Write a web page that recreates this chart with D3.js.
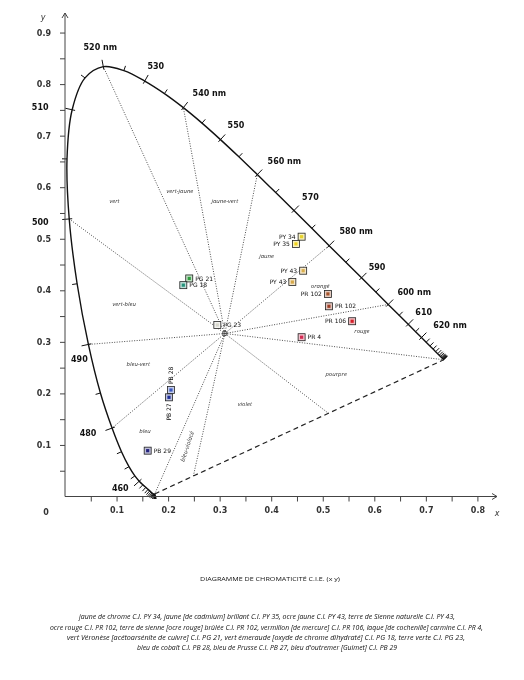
<!DOCTYPE html>
<html>
<head>
<meta charset="utf-8">
<script src="https://cdn.jsdelivr.net/npm/d3@7"></script>
<style>
  body { margin: 0; background: #fff; }
  svg { display: block; will-change: transform; }
</style>
</head>
<body>
<svg id="chart"></svg>
<script>
// spectral locus CIE 1931 (x, y), every 5 nm
const wavelengths = [380, 385, 390, 395, 400, 405, 410, 415, 420, 425, 430, 435, 440, 445, 450, 455,
  460, 465, 470, 475, 480, 485, 490, 495, 500, 505, 510, 515, 520, 525, 530, 535, 540, 545, 550, 555,
  560, 565, 570, 575, 580, 585, 590, 595, 600, 605, 610, 615, 620, 625, 630, 635, 640, 645, 650, 655,
  660, 665, 670, 675, 680, 685, 690, 695, 700];
const locusX = [0.1741, 0.1740, 0.1738, 0.1736, 0.1733, 0.1730, 0.1726, 0.1721, 0.1714, 0.1703, 0.1689,
  0.1669, 0.1644, 0.1611, 0.1566, 0.1510, 0.1440, 0.1355, 0.1241, 0.1096, 0.0913, 0.0687, 0.0454, 0.0235,
  0.0082, 0.0039, 0.0139, 0.0389, 0.0743, 0.1142, 0.1547, 0.1929, 0.2296, 0.2658, 0.3016, 0.3373, 0.3731,
  0.4087, 0.4441, 0.4788, 0.5125, 0.5448, 0.5752, 0.6029, 0.6270, 0.6482, 0.6658, 0.6801, 0.6915, 0.7006,
  0.7079, 0.7140, 0.7190, 0.7230, 0.7260, 0.7283, 0.7300, 0.7311, 0.7320, 0.7327, 0.7334, 0.7340, 0.7344,
  0.7346, 0.7347];
const locusY = [0.0050, 0.0050, 0.0049, 0.0049, 0.0048, 0.0048, 0.0048, 0.0048, 0.0051, 0.0058, 0.0069,
  0.0086, 0.0109, 0.0138, 0.0177, 0.0227, 0.0297, 0.0399, 0.0578, 0.0868, 0.1327, 0.2007, 0.2950, 0.4127,
  0.5384, 0.6548, 0.7502, 0.8120, 0.8338, 0.8262, 0.8059, 0.7816, 0.7543, 0.7243, 0.6923, 0.6589, 0.6245,
  0.5896, 0.5547, 0.5202, 0.4866, 0.4544, 0.4242, 0.3965, 0.3725, 0.3514, 0.3340, 0.3197, 0.3083, 0.2993,
  0.2920, 0.2859, 0.2809, 0.2770, 0.2740, 0.2717, 0.2700, 0.2689, 0.2680, 0.2673, 0.2666, 0.2660, 0.2656,
  0.2654, 0.2653];

// labelled wavelengths
const labelNm = [460, 480, 490, 500, 510, 520, 530, 540, 550, 560, 570, 580, 590, 600, 610, 620];
const labelText = ['460', '480', '490', '500', '510', '520 nm', '530', '540 nm', '550', '560 nm', '570',
  '580 nm', '590', '600 nm', '610', '620 nm'];

// white point (illuminant C) and hue boundaries
const whitePoint = [0.3101, 0.3162];
const boundaryNm = [380, 480, 490, 500, 520, 540, 560, 580, 600, 700];
const purpleBoundaryX = [0.249, 0.511];

// hue names
const regionNames = ['vert', 'vert-jaune', 'jaune-vert', 'jaune', 'orangé', 'rouge', 'pourpre', 'violet',
  'bleu-violacé', 'bleu', 'bleu-vert', 'vert-bleu'];
const regionX = [0.096, 0.223, 0.310, 0.391, 0.495, 0.576, 0.526, 0.349, 0.237, 0.155, 0.142, 0.115];
const regionY = [0.573, 0.593, 0.573, 0.467, 0.408, 0.321, 0.238, 0.179, 0.097, 0.128, 0.258, 0.373];

// pigments
const pigmentCodes = ['PY 34', 'PY 35', 'PY 43', 'PY 43', 'PR 102', 'PR 102', 'PR 106', 'PR 4',
  'PG 21', 'PG 18', 'PG 23', 'PB 28', 'PB 27', 'PB 29'];
const pigmentX = [0.459, 0.448, 0.462, 0.441, 0.510, 0.512, 0.557, 0.459, 0.241, 0.2295, 0.2955, 0.2056, 0.2017, 0.1604];
const pigmentY = [0.504, 0.490, 0.438, 0.416, 0.393, 0.369, 0.340, 0.309, 0.423, 0.410, 0.3327, 0.2066, 0.1924, 0.0889];

const xTickValues = [0.05, 0.1, 0.15, 0.2, 0.25, 0.3, 0.35, 0.4, 0.45, 0.5, 0.55, 0.6, 0.65, 0.7, 0.75, 0.8];
const xTickLabels = ['', '0.1', '', '0.2', '', '0.3', '', '0.4', '', '0.5', '', '0.6', '', '0.7', '', '0.8'];
const yLabelValues = [0.1, 0.2, 0.3, 0.4, 0.5, 0.6, 0.7, 0.8, 0.9];
const yTickValues = [0.05, 0.1, 0.15, 0.2, 0.25, 0.3, 0.35, 0.4, 0.45, 0.5, 0.55, 0.6, 0.65, 0.7, 0.75, 0.8, 0.85, 0.9];

const title = 'DIAGRAMME DE CHROMATICITÉ C.I.E. (x y)';
const footLines = [
  'jaune de chrome C.I. PY 34, jaune [de cadmium] brillant C.I. PY 35, ocre jaune C.I. PY 43, terre de Sienne naturelle C.I. PY 43,',
  'ocre rouge C.I. PR 102, terre de sienne [ocre rouge] brûlée C.I. PR 102, vermillon [de mercure] C.I. PR 106, laque [de cochenille] carmine C.I. PR 4,',
  'vert Véronèse [acétoarsénite de cuivre] C.I. PG 21, vert émeraude [oxyde de chrome dihydraté] C.I. PG 18, terre verte C.I. PG 23,',
  'bleu de cobalt C.I. PB 28, bleu de Prusse C.I. PB 27, bleu d\'outremer [Guimet] C.I. PB 29'
];

// ---- layout / styles
const pigmentColors = ['#e6d22c', '#efd21e', '#d9ae4e', '#d6a84a', '#a4532a', '#9c3f26', '#d3202a', '#d42a52',
  '#2f9c3e', '#22927a', '#d6d6cc', '#3a58c0', '#1f2f96', '#24237e'];
const labelSide = ['left', 'left', 'left', 'left', 'left', 'right', 'left', 'right',
  'right', 'right', 'right', 'up', 'down', 'right'];
const nmOffset = {
  460: [-19, 7], 480: [-24, 5], 490: [-9, 15], 500: [-29, 3], 510: [-32, -3], 520: [-3, -19],
  530: [11, -15], 540: [26, -14], 550: [15.5, -14.6], 560: [27, -13], 570: [16.5, -13.6],
  580: [27, -14], 590: [15.5, -11], 600: [26, -12], 610: [15.5, -12], 620: [28.5, -12.6]
};
const footX = [[79, 455], [50, 483], [67, 465], [137, 397]];
const footY = [619, 629.5, 639.5, 649.5];

const W = 524, H = 680;
const svg = d3.select('#chart').attr('width', W).attr('height', H);

const x = d3.scaleLinear().domain([0, 0.8]).range([65, 477.4]);
const y = d3.scaleLinear().domain([0, 0.9]).range([496.5, 32.55]);

const locus = wavelengths.map((w, i) => ({ w, x: locusX[i], y: locusY[i] }));
const byNm = w => locus[wavelengths.indexOf(w)];
const wpx = x(whitePoint[0]), wpy = y(whitePoint[1]);

// hue boundaries (dotted)
const first = locus[0], last = locus[locus.length - 1];
const targets = boundaryNm.map(w => [byNm(w).x, byNm(w).y])
  .concat(purpleBoundaryX.map(px => [px, first.y + (px - first.x) / (last.x - first.x) * (last.y - first.y)]));

svg.append('g').selectAll('line')
  .data(targets)
  .join('line')
  .attr('x1', wpx).attr('y1', wpy)
  .attr('x2', d => x(d[0])).attr('y2', d => y(d[1]))
  .attr('stroke', '#222')
  .attr('stroke-width', 0.8)
  .attr('stroke-dasharray', '1,1.5');

// purple line
svg.append('line')
  .attr('x1', x(first.x)).attr('y1', y(first.y))
  .attr('x2', x(last.x)).attr('y2', y(last.y))
  .attr('stroke', '#222')
  .attr('stroke-width', 1.2)
  .attr('stroke-dasharray', '5,3.5');

// spectral locus
const line = d3.line().x(d => x(d.x)).y(d => y(d.y)).curve(d3.curveCatmullRom.alpha(0.5));
svg.append('path')
  .datum(locus)
  .attr('d', line)
  .attr('fill', 'none')
  .attr('stroke', '#111')
  .attr('stroke-width', 1.4);

// ticks on the locus
function normalAt(i) {
  const a = locus[Math.max(0, i - 1)], b = locus[Math.min(locus.length - 1, i + 1)];
  let tx = x(b.x) - x(a.x), ty = y(b.y) - y(a.y);
  const L = Math.hypot(tx, ty) || 1;
  tx /= L; ty /= L;
  let nx = -ty, ny = tx;
  const px = x(locus[i].x) - wpx, py = y(locus[i].y) - wpy;
  if (nx * px + ny * py < 0) { nx = -nx; ny = -ny; }
  return [nx, ny];
}

svg.append('g').selectAll('line')
  .data(locus)
  .join('line')
  .each(function (d, i) {
    const [nx, ny] = normalAt(i);
    const major = labelNm.includes(d.w);
    const out = major ? 7 : 5, inn = major ? 3 : 0;
    const px = x(d.x), py = y(d.y);
    d3.select(this)
      .attr('x1', px - nx * inn).attr('y1', py - ny * inn)
      .attr('x2', px + nx * out).attr('y2', py + ny * out);
  })
  .attr('stroke', '#111')
  .attr('stroke-width', 1);

// wavelength labels
svg.append('g').selectAll('text')
  .data(labelNm)
  .join('text')
  .attr('x', d => x(byNm(d).x) + nmOffset[d][0])
  .attr('y', d => y(byNm(d).y) + nmOffset[d][1])
  .attr('dy', '0.35em')
  .attr('text-anchor', 'middle')
  .attr('font-family', 'DejaVu Sans, sans-serif')
  .attr('font-weight', 'bold')
  .attr('font-size', 8)
  .attr('fill', '#111')
  .text((d, i) => labelText[i]);

// hue names
svg.append('g').selectAll('text')
  .data(regionNames)
  .join('text')
  .attr('transform', (d, i) => `translate(${x(regionX[i])},${y(regionY[i])})` + (d === 'bleu-violacé' ? ' rotate(-72)' : ''))
  .attr('dy', '0.35em')
  .attr('text-anchor', 'middle')
  .attr('font-family', 'Open Sans, sans-serif')
  .attr('font-style', 'italic')
  .attr('font-size', 6)
  .attr('fill', '#333')
  .text(d => d);

// white point
const wp = svg.append('g').attr('transform', `translate(${wpx},${wpy})`);
wp.append('circle').attr('r', 2.3).attr('fill', '#fff').attr('stroke', '#222').attr('stroke-width', 0.8);
wp.append('path').attr('d', 'M-2.3,0H2.3M0,-2.3V2.3').attr('stroke', '#222').attr('stroke-width', 0.7);

// pigments
const pig = svg.append('g').selectAll('g')
  .data(pigmentCodes)
  .join('g')
  .attr('transform', (d, i) => `translate(${x(pigmentX[i])},${y(pigmentY[i])})`);

pig.append('rect')
  .attr('x', -3.5).attr('y', -3.5).attr('width', 7).attr('height', 7)
  .attr('fill', (d, i) => d3.interpolateRgb(pigmentColors[i], '#fff')(0.7))
  .attr('stroke', '#222')
  .attr('stroke-width', 0.8);

pig.append('rect')
  .attr('x', -1.6).attr('y', -1.6).attr('width', 3.2).attr('height', 3.2)
  .attr('fill', (d, i) => pigmentColors[i]);

pig.append('text')
  .attr('transform', (d, i) => {
    const s = labelSide[i];
    if (s === 'up') return 'translate(0,-6) rotate(-90)';
    if (s === 'down') return 'translate(0,6) rotate(-90)';
    return s === 'left' ? 'translate(-6,0)' : 'translate(6,0)';
  })
  .attr('text-anchor', (d, i) => ['left', 'down'].includes(labelSide[i]) ? 'end' : 'start')
  .attr('dy', '0.35em')
  .attr('font-family', 'DejaVu Sans, sans-serif')
  .attr('font-size', 6)
  .attr('fill', '#111')
  .text(d => d);

// x axis
const gx = svg.append('g')
  .attr('transform', `translate(0,${y(0)})`)
  .call(d3.axisBottom(x).tickValues(xTickValues).tickSizeInner(5).tickSizeOuter(0).tickPadding(6)
    .tickFormat((d, i) => xTickLabels[i]));
gx.select('.domain').remove();
gx.selectAll('line').attr('stroke', '#444');
gx.selectAll('text').attr('font-family', 'DejaVu Sans, sans-serif').attr('font-weight', 'bold')
  .attr('font-size', 8).attr('fill', '#333');

// y axis: ticks and labels
const gy1 = svg.append('g')
  .attr('transform', `translate(${x(0)},0)`)
  .call(d3.axisLeft(y).tickValues(yTickValues).tickSizeInner(5).tickSizeOuter(0).tickFormat(''));
gy1.select('.domain').remove();
gy1.selectAll('line').attr('stroke', '#444');

const gy2 = svg.append('g')
  .attr('transform', `translate(${x(0)},0)`)
  .call(d3.axisLeft(y).tickValues(yLabelValues).tickSize(0).tickPadding(14).tickFormat(d3.format('.1f')));
gy2.select('.domain').remove();
gy2.selectAll('text').attr('font-family', 'DejaVu Sans, sans-serif').attr('font-weight', 'bold')
  .attr('font-size', 8).attr('fill', '#333');

// axis lines with arrows
const axes = svg.append('g').attr('fill', 'none').attr('stroke', '#444').attr('stroke-width', 1);
axes.append('path').attr('d', `M${x(0)},${y(0)}H497M492,${y(0) - 3}L497,${y(0)}L492,${y(0) + 3}`);
axes.append('path').attr('d', `M${x(0)},${y(0)}V13M${x(0) - 3},18L${x(0)},13L${x(0) + 3},18`);

svg.append('text').attr('x', 46).attr('y', 512).attr('dy', '0.35em').attr('text-anchor', 'middle')
  .attr('font-family', 'DejaVu Sans, sans-serif').attr('font-weight', 'bold').attr('font-size', 8)
  .attr('fill', '#333').text('0');
svg.append('text').attr('x', 497).attr('y', 513).attr('dy', '0.35em').attr('text-anchor', 'middle')
  .attr('font-family', 'DejaVu Sans, sans-serif').attr('font-style', 'italic').attr('font-size', 8)
  .attr('fill', '#333').text('x');
svg.append('text').attr('x', 43).attr('y', 17).attr('dy', '0.35em').attr('text-anchor', 'middle')
  .attr('font-family', 'DejaVu Sans, sans-serif').attr('font-style', 'italic').attr('font-size', 8)
  .attr('fill', '#333').text('y');

// caption
svg.append('text')
  .attr('x', 200).attr('y', 579).attr('dy', '0.35em')
  .attr('textLength', 140).attr('lengthAdjust', 'spacingAndGlyphs')
  .attr('font-family', 'Open Sans, sans-serif').attr('font-size', 6).attr('fill', '#111')
  .text(title);

svg.append('g').selectAll('text')
  .data(footLines)
  .join('text')
  .attr('x', (d, i) => footX[i][0])
  .attr('y', (d, i) => footY[i])
  .attr('textLength', (d, i) => footX[i][1] - footX[i][0])
  .attr('lengthAdjust', 'spacingAndGlyphs')
  .attr('font-family', 'Open Sans, sans-serif')
  .attr('font-style', 'italic')
  .attr('font-size', 6.3)
  .attr('fill', '#111')
  .text(d => d);
</script>
</body>
</html>
